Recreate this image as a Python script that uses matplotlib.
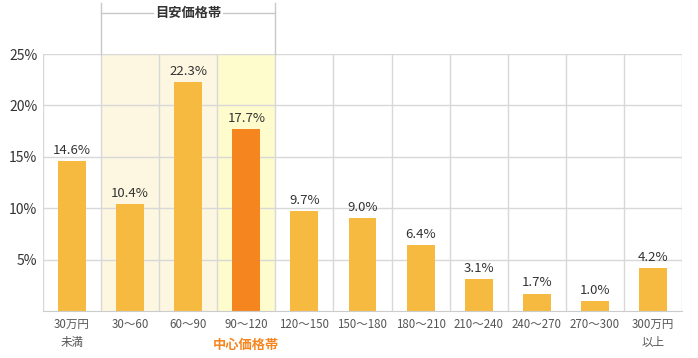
import matplotlib
matplotlib.use("Agg")
import numpy as np
import matplotlib.pyplot as plt

plt.rcParams['font.family'] = ['Noto Sans CJK JP', 'DejaVu Sans']

categories = ['30万円\n未満', '30～60', '60～90', '90～120', '120～150', '150～180',
              '180～210', '210～240', '240～270', '270～300', '300万円\n以上']
shares = [14.6, 10.4, 22.3, 17.7, 9.7, 9.0, 6.4, 3.1, 1.7, 1.0, 4.2]
center_idx = 3
guide_idx = [1, 2]
yticks = [5, 10, 15, 20, 25]

bar_c = '#F7BA41'
center_c = '#F5861F'
grid_c = '#D8D8D8'
text_c = '#333333'

fig = plt.figure(figsize=(6.98, 3.58), dpi=100)
ax = fig.add_axes([43 / 698, 1 - 311 / 358, 639 / 698, 257 / 358])
x = np.arange(len(categories))

# shaded bands
for i in guide_idx:
    ax.axvspan(i - 0.5, i + 0.5, color='#FDF6E0', zorder=0, lw=0)
ax.axvspan(center_idx - 0.5, center_idx + 0.5, color='#FEFBCC', zorder=0, lw=0)

for v in yticks:
    ax.axhline(v, color=grid_c, lw=1, zorder=1)
for i in range(len(categories) + 1):
    ax.axvline(i - 0.5, color=grid_c, lw=1, zorder=1)

colors = [center_c if i == center_idx else bar_c for i in range(len(categories))]
ax.bar(x, shares, width=0.48, color=colors, zorder=2)
for xi, v in zip(x, shares):
    ax.text(xi, v + 0.4, f'{v:.1f}%', ha='center', va='bottom', fontsize=9.5, color=text_c)

ax.set_xlim(-0.5, len(categories) - 0.5)
ax.set_ylim(0, 25)
ax.set_yticks(yticks)
ax.set_yticklabels([f'{v}%' for v in yticks], fontsize=10, color=text_c)
ax.set_xticks(x)
ax.set_xticklabels(categories, fontsize=8.3, color='#555555', linespacing=1.5)
for s in ['top', 'right', 'left']:
    ax.spines[s].set_visible(False)
ax.spines['bottom'].set_color('#CCCCCC')
ax.tick_params(length=0, pad=5)
ax.tick_params(axis='y', pad=4)

ax.text(center_idx, -0.105, '中心価格帯', transform=ax.get_xaxis_transform(),
        ha='center', va='top', fontsize=9.5, color=center_c, fontweight='bold')

# bracket above guide range
left, right = guide_idx[0] - 0.5, center_idx + 0.5
tr = ax.get_xaxis_transform()
top_y = 1 + 51 / 257
brk_y = 1 + 41 / 257
for xv in (left, right):
    ax.plot([xv, xv], [1, top_y], transform=tr, color='#C8C8C8', lw=1, clip_on=False)
mid = (left + right) / 2
ax.plot([left, mid - 0.6], [brk_y, brk_y], transform=tr, color='#C8C8C8', lw=1, clip_on=False)
ax.plot([mid + 0.6, right], [brk_y, brk_y], transform=tr, color='#C8C8C8', lw=1, clip_on=False)
ax.text(mid, brk_y, '目安価格帯', transform=tr, ha='center', va='center',
        fontsize=9.5, color=text_c, fontweight='bold')

fig.savefig('out.png', dpi=100)
